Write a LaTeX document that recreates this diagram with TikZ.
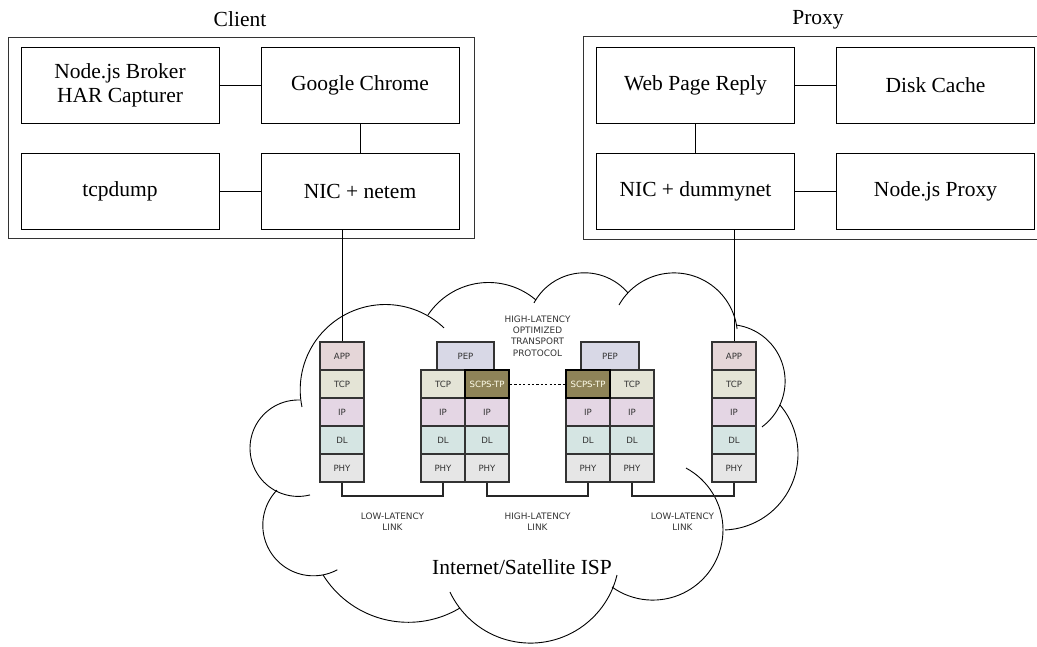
\documentclass[tikz,border=0pt]{standalone}
\usepackage{fontspec}
\setmainfont{Liberation Serif}
\newfontfamily\labsans{DejaVu Sans}
\definecolor{appc}{HTML}{E5D6D8}
\definecolor{tcpc}{HTML}{E4E4D6}
\definecolor{ipc}{HTML}{E4D6E4}
\definecolor{dlc}{HTML}{D5E5E3}
\definecolor{phyc}{HTML}{E6E6E6}
\definecolor{pepc}{HTML}{D8D8E6}
\definecolor{scpsc}{HTML}{8E8358}
\definecolor{laytext}{HTML}{333333}
\newcommand{\cloudarc}[5]{\draw[cloudline] plot[domain=#4:#5, samples=50] ({#1+#3*cos(\x)},{#2+#3*sin(\x)});}
\begin{document}
\begin{tikzpicture}[x=1pt,y=-1pt,
  box/.style={draw=black, line width=0.9pt, minimum width=198pt, minimum height=76pt,
    font=\fontsize{21.5}{24}\selectfont, align=center, inner sep=0pt},
  frame/.style={draw=black!80, line width=1.0pt},
  title/.style={font=\fontsize{21.5}{24}\selectfont, inner sep=0pt},
  conn/.style={draw=black, line width=0.9pt},
  layer/.style={draw=black!80, line width=1.4pt, minimum width=44pt, minimum height=28pt,
    inner sep=0pt, font=\labsans\fontsize{8.6}{10}\selectfont, text=laytext},
  scps/.style={layer, fill=scpsc, draw=black, line width=1.9pt, text=white!92!yellow},
  small/.style={font=\labsans\fontsize{8.9}{11.3}\selectfont, text=laytext, align=center, inner sep=0pt},
  cloudline/.style={draw=black, line width=0.9pt},
  link/.style={draw=black!85, line width=1.2pt}]
\useasboundingbox (0,0) rectangle (1037,646);
\clip (0,0) rectangle (1037,646);

% ---------------- Client ----------------
\node[title] (clienttitle) at (240,19) {Client};
\draw[frame] (8,37) rectangle (474,238);
\node[box] (broker) at (120,85) {Node.js Broker\\HAR Capturer};
\node[box] (chrome) at (360,85) {Google Chrome};
\node[box] (tcpdump) at (120,191) {tcpdump};
\node[box] (netem) at (360,191) {NIC + netem};
\draw[conn] (broker.east) -- (chrome.west);
\draw[conn] (chrome.south) -- (netem.north);
\draw[conn] (tcpdump.east) -- (netem.west);

% ---------------- Proxy ----------------
\node[title] (proxytitle) at (818,20) {Proxy};
\draw[frame] (583,36) rectangle (1045,239);
\node[box] (reply) at (695.5,85) {Web Page Reply};
\node[box] (disk) at (935.5,85) {Disk Cache};
\node[box] (dummy) at (695.5,191) {NIC + dummynet};
\node[box] (nproxy) at (935.5,191) {Node.js Proxy};
\draw[conn] (reply.east) -- (disk.west);
\draw[conn] (reply.south) -- (dummy.north);
\draw[conn] (dummy.east) -- (nproxy.west);

% ---------------- Cloud ----------------
\cloudarc{385.4}{389.7}{85.2}{168.3}{313.5}
\cloudarc{488.6}{355.3}{72.8}{213.6}{310.6}
\cloudarc{584.4}{330.0}{57.2}{208.2}{319.7}
\cloudarc{674.1}{336.3}{63.4}{209.6}{353.4}
\cloudarc{728.4}{381.2}{56.7}{277.7}{413.7}
\cloudarc{722.1}{454.1}{75.9}{319.7}{447.8}
\cloudarc{652.8}{529.9}{70.2}{298.2}{485.5}
\cloudarc{530.5}{554.1}{89.0}{13.6}{154.8}
\cloudarc{408.3}{521.9}{100.4}{59}{148.1}
\cloudarc{313.4}{525.2}{50.6}{224}{61.8}
\cloudarc{298.2}{448.2}{48.2}{272.1}{75.8}

% ---------------- Stacks ----------------
% client stack
\node[layer, fill=appc] (capp) at (342,356) {APP};
\node[layer, fill=tcpc] (ctcp) at (342,384) {TCP};
\node[layer, fill=ipc]  (cip)  at (342,412) {IP};
\node[layer, fill=dlc]  (cdl)  at (342,440) {DL};
\node[layer, fill=phyc] (cphy) at (342,468) {PHY};
% left PEP
\node[layer, fill=pepc, minimum width=57pt] (lpep) at (465.5,356) {PEP};
\node[layer, fill=tcpc] (ltcp) at (443,384) {TCP};
\node[layer, fill=ipc]  (lipa) at (443,412) {IP};
\node[layer, fill=ipc]  (lipb) at (487,412) {IP};
\node[layer, fill=dlc]  (ldla) at (443,440) {DL};
\node[layer, fill=dlc]  (ldlb) at (487,440) {DL};
\node[layer, fill=phyc] (lphya) at (443,468) {PHY};
\node[layer, fill=phyc] (lphyb) at (487,468) {PHY};
\node[scps] (lscps) at (487,384) {SCPS-TP};
% right PEP
\node[layer, fill=pepc, minimum width=58pt] (rpep) at (610,356) {PEP};
\node[layer, fill=tcpc] (rtcp) at (632,384) {TCP};
\node[layer, fill=ipc]  (ripa) at (588,412) {IP};
\node[layer, fill=ipc]  (ripb) at (632,412) {IP};
\node[layer, fill=dlc]  (rdla) at (588,440) {DL};
\node[layer, fill=dlc]  (rdlb) at (632,440) {DL};
\node[layer, fill=phyc] (rphya) at (588,468) {PHY};
\node[layer, fill=phyc] (rphyb) at (632,468) {PHY};
\node[scps] (rscps) at (588,384) {SCPS-TP};
% proxy stack
\node[layer, fill=appc] (papp) at (734,356) {APP};
\node[layer, fill=tcpc] (ptcp) at (734,384) {TCP};
\node[layer, fill=ipc]  (pip)  at (734,412) {IP};
\node[layer, fill=dlc]  (pdl)  at (734,440) {DL};
\node[layer, fill=phyc] (pphy) at (734,468) {PHY};

% connections to hosts
\draw[conn] (capp.north) -- (capp.north |- netem.south);
\draw[conn] (papp.north) -- (papp.north |- dummy.south);

% links
\draw[link] (cphy.south) -- (cphy.south |- 0,496) -| (lphya.south);
\draw[link] (lphyb.south) -- (lphyb.south |- 0,496) -| (rphya.south);
\draw[link] (rphyb.south) -- (rphyb.south |- 0,496) -| (pphy.south);
\draw[black, line width=0.9pt, dash pattern=on 2.2pt off 2.2pt] (lscps.east) -- (rscps.west);

% labels
\node[small] (hlopt) at (537.5,336) {HIGH-LATENCY\\OPTIMIZED\\TRANSPORT\\PROTOCOL};
\node[small] (ll1) at (392.5,521.5) {LOW-LATENCY\\LINK};
\node[small] (hl) at (537.5,521.5) {HIGH-LATENCY\\LINK};
\node[small] (ll2) at (682.5,521.5) {LOW-LATENCY\\LINK};
\node[title] (isp) at (522,567) {Internet/Satellite ISP};
\end{tikzpicture}
\end{document}
